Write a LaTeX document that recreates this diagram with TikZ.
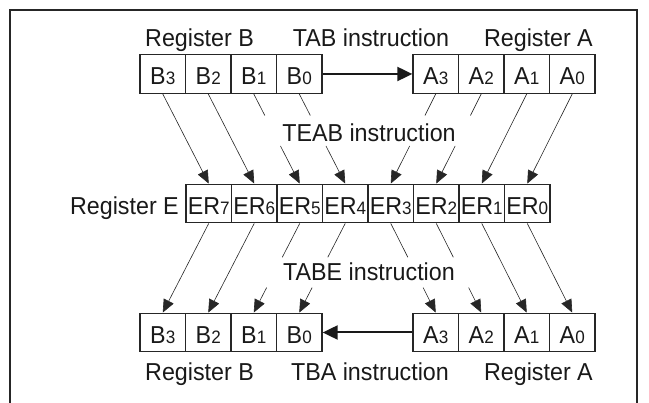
\documentclass[tikz,border=0pt]{standalone}
\usepackage{fontspec}
\setmainfont{Liberation Sans}[FakeStretch=0.95]
\usetikzlibrary{arrows.meta,calc}
\newcommand\dg[1]{{\fontsize{18}{18}\selectfont #1}}
\begin{document}
\begin{tikzpicture}[x=1pt,y=-1pt,
  cell/.style={draw=black!85, line width=1.3pt, minimum width=45.5pt, minimum height=38.5pt, inner sep=0pt, text height=22pt, text depth=0pt, text=black!90, font=\fontsize{24.5}{24.5}\selectfont},
  lbl/.style={anchor=base, inner sep=0pt, font=\fontsize{24.5}{24.5}\selectfont, text=black!90},
  thinline/.style={line width=0.6pt, draw=black!85},
  tip/.style={thinline, -{Triangle[length=13pt,width=11pt]}},
  bus/.style={line width=2pt, draw=black!90, -{Triangle[length=15pt,width=14pt]}}]
\useasboundingbox (0,0) rectangle (649,403);
\draw[line width=2.2pt, black!85] (10,10) rectangle (637,440);
% top and bottom registers
\foreach \i/\d in {0/3,1/2,2/1,3/0} {
  \node[cell] (tb\d) at ({162.75+45.5*\i},74) {B\dg{\d}};
  \node[cell] (ta\d) at ({435.75+45.5*\i},74) {A\dg{\d}};
  \node[cell] (bb\d) at ({162.75+45.5*\i},332.5) {B\dg{\d}};
  \node[cell] (ba\d) at ({435.75+45.5*\i},332.5) {A\dg{\d}};
}
% register E
\foreach \i/\d in {0/7,1/6,2/5,3/4,4/3,5/2,6/1,7/0} {
  \node[cell] (e\d) at ({208.75+45.5*\i},203.5) {ER\dg{\d}};
}
% labels
\node[lbl, anchor=base west] (rbt) at (145,47) {Register B};
\node[lbl] (tab) at (371,47) {TAB instruction};
\node[lbl, anchor=base east] (rat) at (593,47) {Register A};
\node[lbl, anchor=base east] (re) at (179,215) {Register E};
\node[lbl] (teab) at (369,141.5) {TEAB instruction};
\node[lbl] (tabe) at (369,281) {TABE instruction};
\node[lbl, anchor=base west] (rbb) at (145,381) {Register B};
\node[lbl] (tba) at (370,381) {TBA instruction};
\node[lbl, anchor=base east] (rab) at (593,381) {Register A};
% bus arrows
\draw[bus] (tb0.east) -- (ta3.west);
\draw[bus] (ba3.west) -- (bb0.east);
% TEAB
\foreach \s/\t in {tb3/e7,tb2/e6,ta1/e1,ta0/e0}
  \draw[tip] (\s.south) -- (\t.north);
\foreach \s/\t in {tb1/e5,tb0/e4,ta3/e3,ta2/e2} {
  \draw[thinline] (\s.south) -- ($(\s.south)!0.24!(\t.north)$);
  \draw[tip] ($(\s.south)!0.58!(\t.north)$) -- (\t.north);
}
% TABE
\foreach \s/\t in {e7/bb3,e6/bb2,e1/ba1,e0/ba0}
  \draw[tip] (\s.south) -- (\t.north);
\foreach \s/\t in {e5/bb1,e4/bb0,e3/ba3,e2/ba2} {
  \draw[thinline] (\s.south) -- ($(\s.south)!0.38!(\t.north)$);
  \draw[tip] ($(\s.south)!0.72!(\t.north)$) -- (\t.north);
}
\end{tikzpicture}
\end{document}
